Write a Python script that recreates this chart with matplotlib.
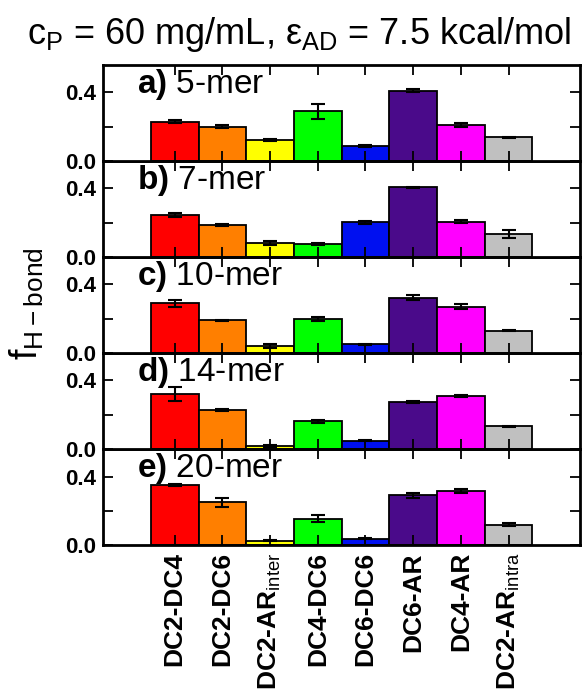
import numpy as np
import matplotlib
matplotlib.use("Agg")
import matplotlib.pyplot as plt
import matplotlib.transforms as mtransforms

plt.rcParams['font.family'] = ['Liberation Sans', 'DejaVu Sans']
plt.rcParams['mathtext.fontset'] = 'custom'
plt.rcParams['mathtext.rm'] = 'Liberation Sans'
plt.rcParams['mathtext.bf'] = 'Liberation Sans:bold'
plt.rcParams['mathtext.it'] = 'Liberation Sans:italic'

# Data
pairs = ["DC2-DC4", "DC2-DC6", r"DC2-AR$_{\rm inter}$", "DC4-DC6",
         "DC6-DC6", "DC6-AR", "DC4-AR", r"DC2-AR$_{\rm intra}$"]
colors = ["#ff0000", "#ff7f00", "#ffff00", "#00ff00",
          "#0010f0", "#4a0a8a", "#ff00ff", "#c0c0c0"]
panels = ["a)", "b)", "c)", "d)", "e)"]
lengths = ["5-mer", "7-mer", "10-mer", "14-mer", "20-mer"]

f_5 = [0.23, 0.20, 0.123, 0.29, 0.086, 0.41, 0.21, 0.137]
e_5 = [0.008, 0.01, 0.005, 0.045, 0.005, 0.008, 0.012, 0.003]
f_7 = [0.244, 0.187, 0.082, 0.076, 0.202, 0.406, 0.206, 0.133]
e_7 = [0.01, 0.006, 0.01, 0.005, 0.007, 0.005, 0.008, 0.025]
f_10 = [0.29, 0.19, 0.039, 0.199, 0.052, 0.323, 0.27, 0.131]
e_10 = [0.02, 0.003, 0.012, 0.01, 0.003, 0.015, 0.015, 0.003]
f_14 = [0.32, 0.229, 0.019, 0.162, 0.048, 0.276, 0.31, 0.133]
e_14 = [0.04, 0.007, 0.005, 0.008, 0.003, 0.007, 0.007, 0.002]
f_20 = [0.352, 0.25, 0.025, 0.154, 0.038, 0.291, 0.316, 0.12]
e_20 = [0.007, 0.025, 0.003, 0.02, 0.003, 0.015, 0.01, 0.007]

values = [f_5, f_7, f_10, f_14, f_20]
errors = [e_5, e_7, e_10, e_14, e_20]

fig, axes = plt.subplots(5, 1, figsize=(5.86, 6.98), dpi=100, sharex=True)
fig.subplots_adjust(left=0.176, right=0.99, top=0.907, bottom=0.219, hspace=0)

x = np.arange(1, len(pairs) + 1)
for i, ax in enumerate(axes):
    ax.bar(x, values[i], width=1.0, color=colors, edgecolor='black', linewidth=1.3,
           yerr=errors[i], capsize=5, error_kw=dict(ecolor='black', elinewidth=1.5, capthick=1.5))
    ax.set_xlim(-0.5, 9.5)
    ax.set_ylim(0, 0.56)
    ax.set_yticks([0.0, 0.2, 0.4])
    ax.set_yticklabels(["0.0", "", "0.4"], fontweight='bold', fontsize=16)
    ax.set_xticks(x)
    ax.tick_params(direction='in', top=True, right=True, length=7, width=1.3, pad=5)
    for s in ax.spines.values():
        s.set_linewidth(2)
    trans = mtransforms.blended_transform_factory(ax.transData, ax.transAxes)
    ax.text(0.2, 0.80, r"$\bf{%s}$ %s" % (panels[i], lengths[i]),
            transform=trans, fontsize=24, va='center', ha='left')
    ax.set_zorder(len(axes) - i)

axes[-1].set_xticklabels(pairs, rotation=90, fontweight='bold', fontsize=19)
fig.text(0.045, 0.565, r"f$_{\rm H-bond}$", rotation=90, fontsize=27, va='center', ha='center')
fig.text(0.51, 0.95, r"c$_{\rm P}$ = 60 mg/mL, ε$_{\rm AD}$ = 7.5 kcal/mol",
         fontsize=26, va='center', ha='center')

fig.savefig("out.png")
